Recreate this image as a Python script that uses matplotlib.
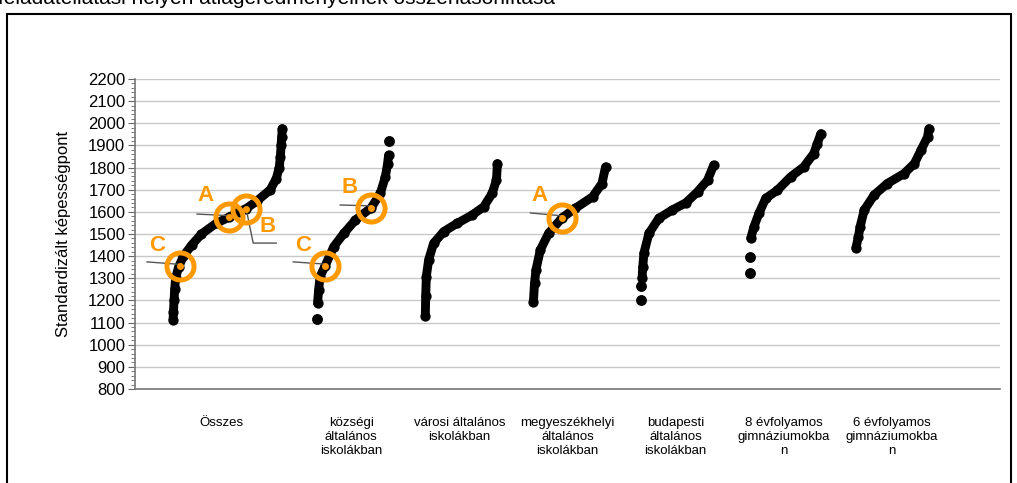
import matplotlib
matplotlib.use("Agg")
from matplotlib import pyplot as plt
from matplotlib.ticker import MultipleLocator
from matplotlib.patches import Rectangle

plt.rcParams['font.family'] = ['Liberation Sans', 'DejaVu Sans']

# Kategóriák (tengelyfeliratok)
categories = [
    "Összes",
    "községi\náltalános\niskolákban",
    "városi általános\niskolákban",
    "megyeszékhelyi\náltalános\niskolákban",
    "budapesti\náltalános\niskolákban",
    "8 évfolyamos\ngimnáziumokba\nn",
    "6 évfolyamos\ngimnáziumokba\nn",
]

# Rangsor szerinti helyzet (percentilis) és standardizált képességpont
osszes_pct = [0, 0.4, 0.9, 1.5, 2.3, 5, 9.5, 17, 26, 40, 51, 60, 67, 77, 89, 94.5, 97.2, 98.3, 98.9, 99.5, 100]
osszes_pont = [1113, 1150, 1200, 1250, 1300, 1350, 1400, 1450, 1500, 1550, 1575, 1600, 1615, 1650, 1700, 1750, 1800, 1850, 1900, 1940, 1976]

kozseg_pct = [0.5, 2, 4, 11, 23, 37, 53, 75, 87.5, 94.5, 97.6, 99]
kozseg_pont = [1188, 1248, 1308, 1356, 1443, 1503, 1563, 1619, 1683, 1758, 1818, 1856]
kozseg_kulon_pct = [0, 100]
kozseg_kulon_pont = [1116, 1920]

varosi_pct = [0, 0.5, 1.4, 4.6, 11.5, 25.5, 44, 65, 81, 92.6, 98.6, 100]
varosi_pont = [1128, 1218, 1308, 1383, 1458, 1511, 1548, 1586, 1623, 1683, 1743, 1818]

megye_pct = [0, 1.5, 3.5, 9.5, 21, 40, 58, 82, 95, 100]
megye_pont = [1195, 1278, 1338, 1428, 1503, 1574, 1616, 1668, 1728, 1803]

budapest_pct = [2, 3, 4.5, 11.4, 25, 43, 62, 78, 91.6, 100]
budapest_pont = [1300, 1353, 1413, 1503, 1571, 1608, 1641, 1691, 1743, 1811]
budapest_kulon_pct = [0, 1]
budapest_kulon_pont = [1203, 1263]

gimn8_pct = [1.5, 6, 13, 22.5, 39, 57.5, 76, 90, 95, 100]
gimn8_pont = [1481, 1533, 1593, 1661, 1698, 1758, 1803, 1863, 1908, 1953]
gimn8_kulon_pct = [0, 0.5]
gimn8_kulon_pont = [1323, 1395]

gimn6_pct = [0, 3.5, 5.8, 11.4, 25, 43, 66, 80, 89, 98, 100]
gimn6_pont = [1436, 1488, 1533, 1608, 1676, 1728, 1773, 1818, 1878, 1938, 1976]

curves = [
    (osszes_pct, osszes_pont, [], []),
    (kozseg_pct, kozseg_pont, kozseg_kulon_pct, kozseg_kulon_pont),
    (varosi_pct, varosi_pont, [], []),
    (megye_pct, megye_pont, [], []),
    (budapest_pct, budapest_pont, budapest_kulon_pct, budapest_kulon_pont),
    (gimn8_pct, gimn8_pont, gimn8_kulon_pct, gimn8_kulon_pont),
    (gimn6_pct, gimn6_pont, [], []),
]

# Kiemelt iskolák: kategória, percentilis, pont, betű
kiemelt_kat = [0, 0, 0, 1, 1, 3]
kiemelt_pct = [6, 51, 67, 11, 75, 40]
kiemelt_pont = [1355, 1575, 1612, 1356, 1619, 1574]
kiemelt_betu = ["C", "A", "B", "C", "B", "A"]

# elhelyezés
label_pos = [0.8, 2, 3, 4, 5, 6, 7]
group_left = [0.352, 1.685, 2.685, 3.685, 4.676, 5.685, 6.667]
group_width = [1.01, 0.667, 0.667, 0.667, 0.676, 0.658, 0.676]
orange = '#FF9900'

fig = plt.figure(figsize=(10.17, 4.83), dpi=100)
ax = fig.add_axes([135 / 1017, 94 / 483, 865 / 1017, 310 / 483])

def to_x(i, pct):
    return [group_left[i] + group_width[i] * p / 100 for p in pct]

for i, (pct, pont, kpct, kpont) in enumerate(curves):
    ax.plot(to_x(i, pct), pont, '-o', color='black', lw=6.4, ms=6.4,
            solid_capstyle='round', solid_joinstyle='round', zorder=3)
    if kpct:
        ax.plot(to_x(i, kpct), kpont, 'o', color='black', ms=6.8, zorder=3)

# jelölések
label_offset = {  # (betű x, betű y, vonal)
    0: ((0.204, 1450), [(0.111, 1374), None]),
    1: ((0.648, 1672), [(0.574, 1590), None]),
    2: ((1.222, 1532), [(1.306, 1459), (1.093, 1459)]),
    3: ((1.556, 1450), [(1.463, 1374), None]),
    4: ((1.981, 1712), [(1.898, 1631), None]),
    5: ((3.741, 1676), [(3.657, 1595), None]),
}
for j in range(len(kiemelt_kat)):
    cx = to_x(kiemelt_kat[j], [kiemelt_pct[j]])[0]
    cy = kiemelt_pont[j]
    (tx, ty), (p0, p1) = label_offset[j]
    xs = [p0[0]] + ([p1[0]] if p1 else []) + [cx]
    ys = [p0[1]] + ([p1[1]] if p1 else []) + [cy + (8 if not p1 else 0)]
    ax.plot(xs, ys, color='#555555', lw=1, zorder=4)
    ax.plot([cx], [cy], 'o', ms=19.5, mfc='none', mec=orange, mew=3.6, zorder=5)
    ax.plot([cx], [cy], 'o', ms=4, color=orange, zorder=6)
    ax.text(tx, ty, kiemelt_betu[j], color=orange, fontsize=16, fontweight='bold',
            ha='center', va='center', zorder=6)

ax.set_xlim(0, 8)
ax.set_ylim(800, 2200)
ax.yaxis.set_major_locator(MultipleLocator(100))
ax.yaxis.set_minor_locator(MultipleLocator(20))
ax.grid(axis='y', which='major', color='#c8c8c8', lw=1, zorder=0)
ax.set_axisbelow(True)
ax.set_xticks(label_pos)
ax.set_xticklabels(categories, fontsize=9.5, linespacing=1.25, va='top')
ax.tick_params(axis='x', length=0, pad=20)
ax.tick_params(axis='y', which='major', length=5, color='#666666', labelsize=12, pad=2)
ax.tick_params(axis='y', which='minor', length=3, color='#666666')
for s in ['top', 'right']:
    ax.spines[s].set_visible(False)
for s in ['left', 'bottom']:
    ax.spines[s].set_color('#777777')
    ax.spines[s].set_linewidth(1.2)
ax.set_ylabel("Standardizált képességpont", fontsize=12, labelpad=12)

# keret és levágott cím
fig.patches.append(Rectangle((7 / 1017, -0.05), 1004 / 1017, 1.05 - 14 / 483,
                             transform=fig.transFigure, fill=False,
                             edgecolor='black', lw=1.5))
fig.text(-0.002, 1 - 4 / 483, "feladatellátási helyen átlageredményeinek összehasonlítása",
         fontsize=15, va='baseline', ha='left')

fig.savefig('out.png', dpi=100)
